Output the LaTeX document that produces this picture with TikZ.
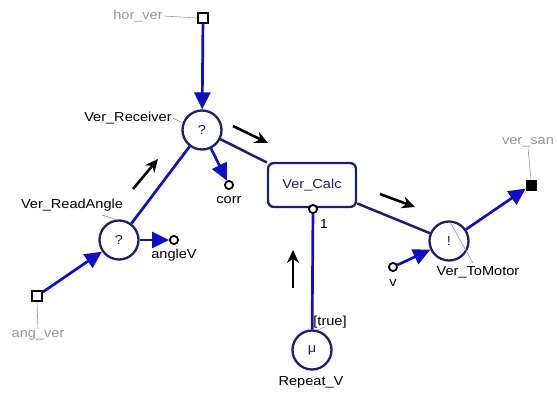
\documentclass[tikz,border=0pt]{standalone}
\usepackage{fontspec}
\setmainfont{Liberation Sans}
\newfontfamily\labfont[FakeStretch=1.12]{Liberation Sans}
\usetikzlibrary{arrows.meta}
\definecolor{blueL}{RGB}{15,15,195}
\definecolor{navy}{RGB}{30,30,115}
\definecolor{grayT}{RGB}{150,150,150}
\begin{document}
\begin{tikzpicture}[x=1pt,y=-1pt,
  every node/.style={font=\labfont\fontsize{13}{15}\selectfont},
  proc/.style={circle,draw=navy,line width=2.3pt,fill=white,minimum size=39pt,inner sep=0pt,text=navy},
  calcbox/.style={rectangle,rounded corners=6pt,draw=navy,line width=2.3pt,fill=white,minimum width=88pt,minimum height=44pt,text=navy},
  portsq/.style={rectangle,draw=black,line width=2pt,fill=white,minimum size=10pt,inner sep=0pt},
  portfill/.style={rectangle,draw=black,fill=black,minimum size=10pt,inner sep=0pt},
  pin/.style={circle,draw=black,line width=1.7pt,fill=white,minimum size=8pt,inner sep=0pt},
  blueline/.style={draw=blueL,line width=2.7pt},
  bluearrow/.style={blueline,-{Triangle[length=17pt,width=16pt]}},
  navyline/.style={draw=navy,line width=2.5pt},
  cue/.style={draw=black,line width=2.6pt,-{Stealth[length=13pt,width=12pt]}},
  tag/.style={text=black,inner sep=1pt},
  graytag/.style={text=grayT,inner sep=1pt},
  leader/.style={draw=grayT,line width=0.6pt}]
\useasboundingbox (0,0) rectangle (557,394);

% process nodes
\node[proc] (rec) at (202,130) {?};
\node[proc] (read) at (119,240) {?};
\node[proc] (mot) at (449,241) {!};
\node[proc] (rep) at (312,350) {μ};
\node[calcbox] (calc) at (312,185) {Ver\_Calc};

% ports
\node[portsq] (hv) at (203,18) {};
\node[portsq] (av) at (37,296) {};
\node[portfill] (vs) at (531,185) {};
\node[pin] (corr) at (229,185) {};
\node[pin] (angv) at (174,240) {};
\node[pin] (vv) at (393,267) {};
\node[pin] (one) at (313,209) {};

% labels
\node[graytag] (hvlab) at (138,16) {hor\_ver};
\node[graytag] (avlab) at (38,335) {ang\_ver};
\node[graytag] (vslab) at (528,142) {ver\_san};
\node[tag] (reclab) at (128,118) {Ver\_Receiver};
\node[tag] (readlab) at (72,205) {Ver\_ReadAngle};
\node[tag] (motlab) at (478,272) {Ver\_ToMotor};
\node[tag] (replab) at (311,382) {Repeat\_V};
\node[tag] (truelab) at (330,322) {[true]};
\node[tag] (onelab) at (324,224) {1};
\node[tag] (corrlab) at (229,200) {corr};
\node[tag] (angvlab) at (174,255) {angleV};
\node[tag] (vlab) at (393,283) {v};

% leaders
\draw[leader] (hvlab.east) -- (hv.west);
\draw[leader] (reclab.east) -- (rec.160);
\coordinate (rdl1) at (102,215);
\coordinate (rdl2) at (118,220);
\draw[leader] (rdl1) -- (rdl2);
\coordinate (mtl1) at (450,222);
\coordinate (mtl2) at (473,263);
\draw[leader] (mtl1) -- (mtl2);
\draw[leader] (vslab.south) -- (vs.north);
\draw[leader] (av.south) -- (avlab.north);
\coordinate (trl) at (325,327);
\draw[leader] (trl) -- (rep.75);

% connectors
\draw[navyline] (rec) -- (calc);
\draw[navyline] (calc) -- (mot);
\draw[blueline] (read) -- (rec);
\draw[blueline] (one) -- (rep);
\draw[bluearrow] (hv) -- (rec);
\draw[bluearrow] (rec) -- (corr);
\draw[bluearrow] (av) -- (read);
\draw[bluearrow] (read) -- (angv);
\draw[bluearrow] (vv) -- (mot);
\draw[bluearrow] (mot) -- (vs);
\node[pin] at (one) {};
\node[pin] at (corr) {};
\node[pin] at (angv) {};
\node[pin] at (vv) {};

% message cue arrows
\coordinate (c1s) at (233,126); \coordinate (c1e) at (268,143);
\coordinate (c2s) at (133,189); \coordinate (c2e) at (158,159);
\coordinate (c3s) at (380,194); \coordinate (c3e) at (415,207);
\coordinate (c4s) at (293,288); \coordinate (c4e) at (293,250);
\draw[cue] (c1s) -- (c1e);
\draw[cue] (c2s) -- (c2e);
\draw[cue] (c3s) -- (c3e);
\draw[cue] (c4s) -- (c4e);
\end{tikzpicture}
\end{document}
